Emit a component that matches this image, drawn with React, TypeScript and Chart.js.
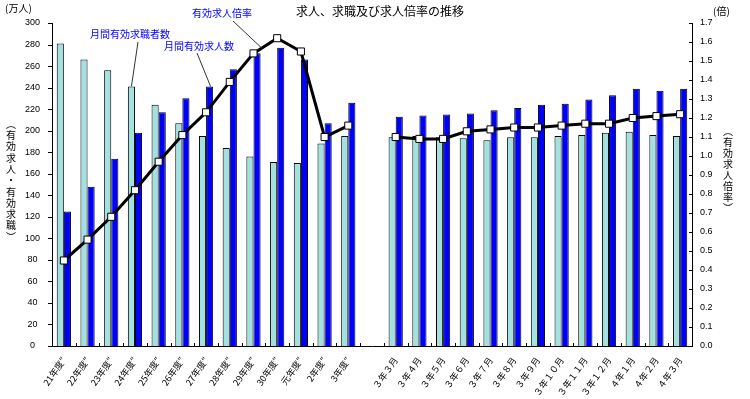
import React, { useEffect, useRef } from "react";
import { Chart, registerables } from "chart.js";

Chart.register(...registerables);

const categories: string[] = [
  "21年度″", "22年度″", "23年度″", "24年度″", "25年度″", "26年度″", "27年度″",
  "28年度″", "29年度″", "30年度″", "元年度″", "2年度″", "3年度″",
  "",
  "３年３月", "３年４月", "３年５月", "３年６月", "３年７月", "３年８月", "３年９月",
  "３年１０月", "３年１１月", "３年１２月", "４年１月", "４年２月", "４年３月",
];

// 月間有効求職者数 (万人)
const jobSeekers: (number | null)[] = [
  281, 266, 256, 241, 224, 207, 195, 184, 176, 171, 170, 188, 195,
  null,
  194, 195, 194, 193, 191, 194, 194, 195, 196, 198, 199, 196, 195,
];

// 月間有効求人数 (万人)
const jobOffers: (number | null)[] = [
  125, 148, 174, 198, 217, 230, 241, 257, 272, 277, 266, 207, 226,
  null,
  213, 214, 215, 216, 219, 221, 224, 225, 229, 233, 239, 237, 239,
];

// 有効求人倍率 (倍)
const offerRatio: (number | null)[] = [
  0.45, 0.56, 0.68, 0.82, 0.97, 1.11, 1.23, 1.39, 1.54, 1.62, 1.55, 1.10, 1.16,
  null,
  1.10, 1.09, 1.09, 1.13, 1.14, 1.15, 1.15, 1.16, 1.17, 1.17, 1.20, 1.21, 1.22,
];

const leftMax = 300;
const leftStep = 20;
const rightMax = 1.7;
const rightStep = 0.1;

const chartTitle = "求人、求職及び求人倍率の推移";
const leftUnit = "(万人)";
const rightUnit = "(倍)";
const leftAxisTitle = ["︵", "有", "効", "求", "人", "・", "有", "効", "求", "職", "︶"];
const rightAxisTitle = ["︵", "有", "効", "求", "人", "倍", "率", "︶"];
const seekerLabel = "月間有効求職者数";
const offerLabel = "月間有効求人数";
const ratioLabel = "有効求人倍率";

const CYAN = "#a3e1e1";
const BLUE = "#0000ff";
const JP = "'Noto Sans CJK JP', sans-serif";
const NUM = "'Liberation Sans', Arial, sans-serif";

const overlayPlugin = {
  id: "overlay",
  afterDraw(chart: any) {
    const ctx: CanvasRenderingContext2D = chart.ctx;
    const a = chart.chartArea;
    const xs = chart.scales.x;
    const yl = chart.scales.y;
    const yr = chart.scales.y1;
    ctx.save();
    ctx.strokeStyle = "#000";
    ctx.lineWidth = 1;
    const seg = (x1: number, y1: number, x2: number, y2: number) => {
      ctx.beginPath();
      ctx.moveTo(x1, y1);
      ctx.lineTo(x2, y2);
      ctx.stroke();
    };
    // x tick marks between categories (pointing up)
    const step = xs.getPixelForValue(1) - xs.getPixelForValue(0);
    for (let i = 0; i <= categories.length; i++) {
      const px = Math.round(xs.getPixelForValue(i) - step / 2) + 0.5;
      seg(px, a.bottom, px, a.bottom - 3);
    }
    // left ticks (outward)
    yl.ticks.forEach((t: any) => {
      const py = Math.round(yl.getPixelForValue(t.value)) + 0.5;
      seg(a.left - 4, py, a.left, py);
    });
    // right ticks (inward)
    yr.ticks.forEach((t: any) => {
      const py = Math.round(yr.getPixelForValue(t.value)) + 0.5;
      seg(a.right - 3, py, a.right, py);
    });

    // title & units
    ctx.fillStyle = "#000";
    ctx.textBaseline = "middle";
    ctx.textAlign = "center";
    ctx.font = `12px ${JP}`;
    ctx.fillText(chartTitle, 380, 11);
    ctx.font = `10px ${JP}`;
    ctx.textAlign = "left";
    ctx.fillText(leftUnit, 5, 8);
    ctx.fillText(rightUnit, 713, 11);

    // vertical axis titles
    ctx.textAlign = "center";
    ctx.font = `10px ${JP}`;
    leftAxisTitle.forEach((c, i) => ctx.fillText(c, 11, 124 + i * 11.3));
    rightAxisTitle.forEach((c, i) => ctx.fillText(c, 728, 131 + i * 11));

    // annotations
    ctx.fillStyle = BLUE;
    ctx.font = `10px ${JP}`;
    ctx.fillText(seekerLabel, 130, 34);
    ctx.fillText(offerLabel, 199, 46);
    ctx.fillText(ratioLabel, 222, 13);

    ctx.strokeStyle = "#333";
    ctx.lineWidth = 1;
    const seekBar = chart.getDatasetMeta(0).data[3];
    const offerBar = chart.getDatasetMeta(1).data[6];
    const p8 = chart.getDatasetMeta(2).data[8];
    const p9 = chart.getDatasetMeta(2).data[9];
    if (seekBar) seg(138, 42, seekBar.x, seekBar.y);
    if (offerBar) seg(197, 53, offerBar.x + 1, offerBar.y);
    if (p8 && p9) {
      const t = 0.35;
      seg(233, 21, p8.x + (p9.x - p8.x) * t, p8.y + (p9.y - p8.y) * t);
    }
    ctx.restore();
  },
};

export default function App() {
  const ref = useRef<HTMLCanvasElement | null>(null);

  useEffect(() => {
    document.body.style.margin = "0";
    const canvas = ref.current;
    if (!canvas) return;
    const chart = new Chart(canvas, {
      type: "bar",
      data: {
        labels: categories,
        datasets: [
          {
            type: "bar",
            label: seekerLabel,
            data: jobSeekers,
            backgroundColor: CYAN,
            borderColor: "#000",
            borderWidth: 1,
            yAxisID: "y",
            order: 2,
            categoryPercentage: 0.6,
            barPercentage: 1.0,
          },
          {
            type: "bar",
            label: offerLabel,
            data: jobOffers,
            backgroundColor: BLUE,
            borderColor: "#000",
            borderWidth: 1,
            yAxisID: "y",
            order: 2,
            categoryPercentage: 0.6,
            barPercentage: 1.0,
          },
          {
            type: "line",
            label: ratioLabel,
            data: offerRatio,
            borderColor: "#000",
            borderWidth: 3,
            tension: 0,
            spanGaps: false,
            pointStyle: "rect",
            pointRadius: 5,
            pointBackgroundColor: "#fff",
            pointBorderColor: "#000",
            pointBorderWidth: 1,
            yAxisID: "y1",
            order: 0,
          } as any,
        ],
      },
      options: {
        responsive: false,
        animation: false,
        layout: { padding: { top: 23, left: 0, right: 0, bottom: 0 } },
        plugins: {
          legend: { display: false },
          tooltip: { enabled: false },
          title: { display: false },
        },
        scales: {
          x: {
            grid: { display: false, drawTicks: false },
            border: { display: true, color: "#000", width: 1 },
            ticks: {
              autoSkip: false,
              maxRotation: 55,
              minRotation: 55,
              padding: 9,
              color: "#000",
              font: { family: JP, size: 9 },
            },
            afterFit: (s: any) => {
              s.height = 53;
            },
          },
          y: {
            position: "left",
            min: 0,
            max: leftMax,
            grid: { display: false, drawTicks: false },
            border: { display: true, color: "#000", width: 1 },
            ticks: {
              stepSize: leftStep,
              crossAlign: "center",
              padding: 12,
              color: "#000",
              font: { family: NUM, size: 9 },
            },
            afterFit: (s: any) => {
              s.width = 52;
            },
          },
          y1: {
            position: "right",
            min: 0,
            max: rightMax,
            grid: { display: false, drawTicks: false },
            border: { display: true, color: "#000", width: 1 },
            ticks: {
              stepSize: rightStep,
              padding: 8,
              color: "#000",
              font: { family: NUM, size: 9 },
              callback: (v: any) => Number(v).toFixed(1),
            },
            afterFit: (s: any) => {
              s.width = 58;
            },
          },
        },
      },
      plugins: [overlayPlugin],
    });
    return () => chart.destroy();
  }, []);

  return (
    <div style={{ width: 750, height: 399, background: "#fff" }}>
      <canvas ref={ref} width={750} height={399} style={{ display: "block" }} />
    </div>
  );
}
